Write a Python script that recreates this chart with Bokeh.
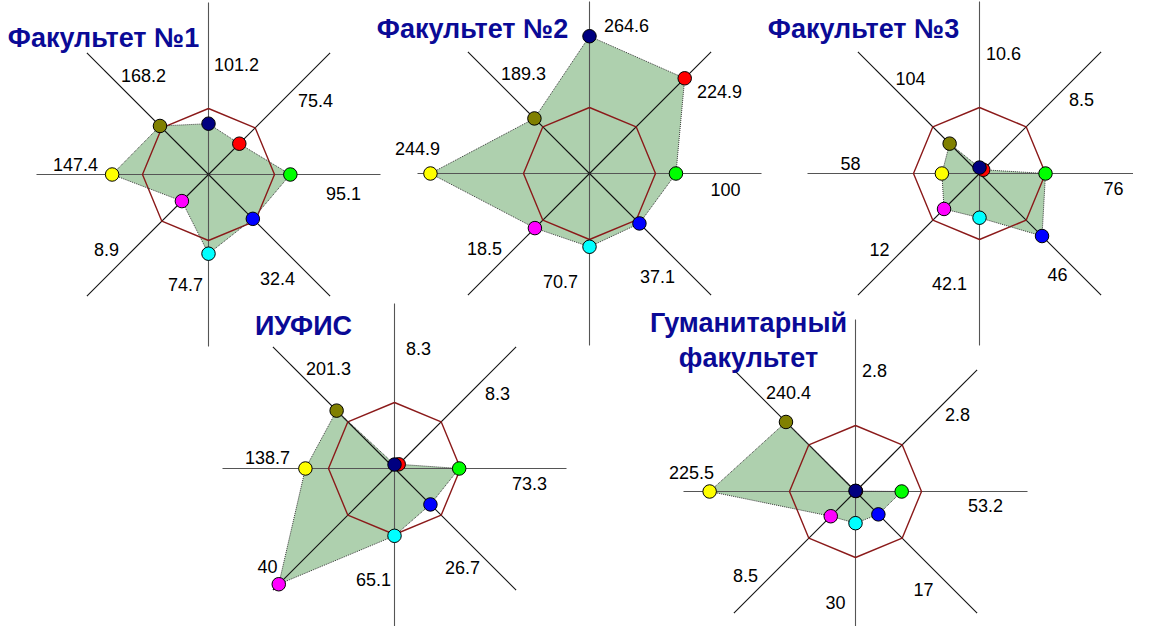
import numpy as np
from bokeh.plotting import figure
from bokeh.models import Range1d
from bokeh.embed import file_html
from bokeh.resources import INLINE
from bokeh.core.properties import value

# ---------------- data ----------------
faculty_titles = ["Факультет №1", "Факультет №2", "Факультет №3", "ИУФИС", "Гуманитарный\nфакультет"]
# axes order: N, NE, E, SE, S, SW, W, NW (clockwise from top)
point_colors = ["#000080", "#ff0000", "#00ff00", "#0000ff", "#00ffff", "#ff00ff", "#ffff00", "#808000"]

# displayed data-label values
f1_labels = [101.2, 75.4, 95.1, 32.4, 74.7, 8.9, 147.4, 168.2]
f2_labels = [264.6, 224.9, 100, 37.1, 70.7, 18.5, 244.9, 189.3]
f3_labels = [10.6, 8.5, 76, 46, 42.1, 12, 58, 104]
iufis_labels = [8.3, 8.3, 73.3, 26.7, 65.1, 40, 138.7, 201.3]
hum_labels = [2.8, 2.8, 53.2, 17, 30, 8.5, 225.5, 240.4]

# plotted (normalised) index values, reference octagon = 100
f1_index = [77, 66, 124, 95, 120, 57, 146, 104]
f2_index = [208, 204, 131, 107, 111, 117, 241, 118]
f3_index = [9, 8, 100, 134, 67, 76, 57, 64]
iufis_index = [6, 9, 98, 77, 102, 248, 135, 124]
hum_index = [1, 1, 70, 49, 48, 53, 221, 149]
reference_level = 100

labels_all = [f1_labels, f2_labels, f3_labels, iufis_labels, hum_labels]
index_all = [f1_index, f2_index, f3_index, iufis_index, hum_index]

# ---------------- layout (pixels in the picture) ----------------
centers = [(208, 174), (589, 173), (979, 173), (394, 468), (855, 491)]
up_len = [172, 172, 172, 165, 172]
title_pos = [(103, 37), (472, 28), (863, 28), (303, 325), (748, 322)]
label_offsets = [
    [(28, -110), (107, -74), (135, 19), (69, 104), (-23, 110), (-102, 75), (-133, -10), (-65, -99)],
    [(37, -148), (130, -82), (136, 16), (68, 103), (-29, 108), (-105, 75), (-172, -25), (-66, -100)],
    [(24, -120), (102, -74), (134, 15), (78, 101), (-30, 110), (-100, 76), (-129, -10), (-69, -95)],
    [(24, -120), (103, -75), (135, 15), (68, 99), (-21, 111), (-127, 98), (-127, -11), (-66, -100)],
    [(19, -121), (102, -77), (130, 14), (68, 98), (-20, 111), (-110, 84), (-164, -19), (-67, -99)],
]
PX_PER_UNIT = 66 / 100.0
AXIS_LEN = 172

W, H = 1133, 626
p = figure(width=W, height=H, output_backend="svg", toolbar_location=None,
           x_range=Range1d(0, W), y_range=Range1d(H, 0),
           x_axis_type=None, y_axis_type=None, min_border=0)
p.outline_line_color = None
p.grid.visible = False
p.background_fill_color = "white"

ang = np.deg2rad(np.arange(8) * 45.0)
sx, sy = np.sin(ang), -np.cos(ang)

for k in range(5):
    cx, cy = centers[k]
    vals = np.array(index_all[k], dtype=float) * PX_PER_UNIT
    px = cx + vals * sx
    py = cy + vals * sy
    # filled series polygon
    p.patch(list(px), list(py), fill_color="#aed0ae", line_color=None)
    # axes
    for i in range(8):
        L = up_len[k] if i == 0 else AXIS_LEN
        col = "#555555" if i % 2 == 0 else "#111111"
        p.line([cx, cx + L * sx[i]], [cy, cy + L * sy[i]], line_color=col, line_width=1.1)
    # reference octagon
    r = reference_level * PX_PER_UNIT
    ox = list(cx + r * sx) + [cx + r * sx[0]]
    oy = list(cy + r * sy) + [cy + r * sy[0]]
    p.line(ox, oy, line_color="#8b1a1a", line_width=1.4)
    # series outline
    p.line(list(px) + [px[0]], list(py) + [py[0]], line_color="#3a3a3a", line_width=1, line_dash="1 1")
    # markers (N drawn last, on top)
    order = [1, 2, 3, 4, 5, 6, 7, 0]
    p.scatter([px[i] for i in order], [py[i] for i in order], size=13.5,
              fill_color=[point_colors[i] for i in order], line_color="black", line_width=1)
    # data labels
    lx = [cx + label_offsets[k][i][0] for i in range(8)]
    ly = [cy + label_offsets[k][i][1] for i in range(8)]
    txt = ["{:g}".format(v) for v in labels_all[k]]
    p.text(lx, ly, text=txt, text_font=value("Liberation Sans"), text_font_size="18px",
           text_align="center", text_baseline="middle", text_color="black")
    # title
    tx, ty = title_pos[k]
    lines = faculty_titles[k].split("\n")
    for j, t in enumerate(lines):
        p.text([tx], [ty + 35 * j], text=[t], text_font=value("Liberation Sans"),
               text_font_size="27px", text_font_style="bold", text_align="center",
               text_baseline="middle", text_color="#0a0a96")

open("out.html", "w").write(file_html(p, INLINE))
